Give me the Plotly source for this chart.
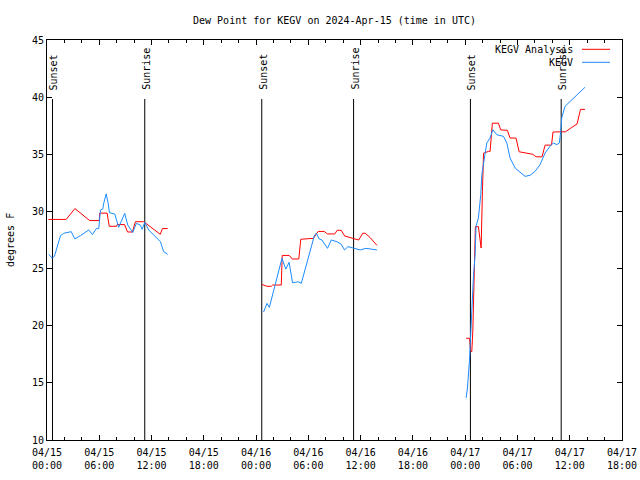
import plotly.graph_objects as go
import pandas as pd

BASE = pd.Timestamp("2024-04-15 00:00")

# ---- data (hours after 2024-04-15 00:00 UTC, dew point in F) ----
analysis_hours = [
    [0.17, 2.2, 3.2, 4.9, 6.0, 6.05, 6.9, 7.15, 8.0, 8.05, 8.9, 9.25, 9.8, 10.15, 11.1, 13.0, 13.25, 13.85],
    [24.63, 25.25, 25.75, 25.9, 26.89, 27.0, 27.8, 28.15, 28.9, 29.13, 30.22, 30.56, 31.13, 31.82, 32.19,
     33.03, 33.31, 33.77, 34.17, 34.8, 35.78, 36.24, 36.53, 37.1, 37.87],
    [48.11, 48.5, 48.62, 48.76, 48.88, 48.95, 49.06, 49.17, 49.52, 49.63, 49.79, 49.83, 49.98, 50.11, 50.67,
     50.86, 51.12, 51.81, 52.09, 52.84, 53.15, 53.84, 54.19, 54.99, 55.76, 56.14, 56.82, 57.17, 57.91, 58.08,
     58.97, 59.52, 60.23, 60.84, 61.24, 61.75],
]
analysis_values = [
    [29.3, 29.3, 30.25, 29.2, 29.2, 29.85, 29.85, 28.7, 28.7, 28.85, 28.85, 28.2, 28.2, 29.1, 29.1, 28.0, 28.5, 28.5],
    [23.62, 23.45, 23.45, 23.56, 23.56, 26.15, 26.15, 25.84, 25.84, 27.56, 27.63, 27.63, 28.25, 28.25, 28.03,
     28.03, 28.35, 28.35, 27.85, 27.7, 27.5, 28.09, 28.09, 27.7, 27.03],
    [18.9, 18.9, 17.8, 17.73, 19.63, 22.25, 24.0, 28.67, 28.67, 27.8, 27.2, 26.8, 31.76, 35.1, 35.25,
     35.25, 37.72, 37.72, 37.13, 37.1, 36.42, 36.42, 35.22, 35.08, 35.0, 34.78, 34.78, 35.8, 35.8, 36.95,
     36.98, 36.97, 37.35, 37.65, 38.93, 38.93],
]
obs_hours = [
    [0.21, 0.6, 0.86, 1.55, 1.93, 2.78, 3.19, 3.84, 4.79, 5.22, 5.66, 5.94, 6.14, 6.4, 6.51, 6.79, 7.02, 7.17,
     7.78, 8.23, 8.92, 9.27, 9.84, 10.26, 10.72, 10.92, 11.22, 11.67, 13.02, 13.39, 13.85],
    [24.86, 25.25, 25.52, 26.97, 27.41, 27.79, 28.19, 28.81, 29.19, 30.71, 30.91, 31.25, 31.56, 32.2, 32.63,
     33.28, 33.77, 34.15, 34.54, 35.0, 35.38, 35.95, 36.61, 37.1, 37.87],
    [48.11, 48.26, 48.49, 48.57, 48.68, 48.76, 48.94, 49.14, 49.25, 49.52, 49.79, 49.91, 50.17, 50.48, 50.86,
     51.17, 51.63, 52.39, 52.78, 53.15, 53.73, 54.3, 54.87, 55.45, 56.02, 56.59, 57.17, 57.74, 58.12, 58.51,
     58.81, 58.97, 59.08, 59.46, 60.03, 60.61, 61.18, 61.75],
]
obs_values = [
    [26.25, 25.9, 26.1, 27.88, 28.09, 28.23, 27.6, 27.88, 28.38, 27.97, 28.5, 28.5, 30.13, 30.21, 30.71, 31.53,
     30.71, 29.89, 29.77, 28.61, 29.83, 28.81, 28.15, 28.96, 28.8, 28.43, 29.05, 28.38, 27.35, 26.48, 26.25],
    [21.2, 21.95, 21.6, 25.9, 24.95, 25.55, 23.75, 23.85, 23.71, 27.94, 28.09, 27.59, 27.5, 26.77, 27.5,
     27.35, 27.13, 26.63, 26.92, 26.83, 26.72, 26.63, 26.77, 26.72, 26.63],
    [13.68, 14.55, 16.89, 18.34, 19.51, 21.26, 24.18, 26.22, 28.7, 29.43, 31.47, 33.22, 34.68, 35.99, 36.43,
     37.15, 36.71, 36.57, 35.99, 34.68, 33.8, 33.45, 33.07, 33.16, 33.51, 34.09, 35.11, 35.7, 35.99, 35.84,
     35.99, 37.01, 38.18, 39.2, 39.64, 40.07, 40.45, 40.86],
]
sunset_hours = [0.63, 24.65, 48.6]
sunrise_hours = [11.22, 35.19, 59.02]
sun_line_top = 39.84
sun_label_y = 40.45

tick_hours = list(range(0, 67, 6))
tick_labels = ["04/15<br>00:00", "04/15<br>06:00", "04/15<br>12:00", "04/15<br>18:00",
               "04/16<br>00:00", "04/16<br>06:00", "04/16<br>12:00", "04/16<br>18:00",
               "04/17<br>00:00", "04/17<br>06:00", "04/17<br>12:00", "04/17<br>18:00"]
minor_hours = list(range(0, 67, 2))
series_names = ["KEGV Analysis", "KEGV"]
series_colors = ["#ff0000", "#1a8cff"]


def ts(h):
    return (BASE + pd.Timedelta(hours=h)).strftime("%Y-%m-%d %H:%M:%S")


def join(segs_h, segs_v):
    xs, ys = [], []
    for hs, vs in zip(segs_h, segs_v):
        xs += [ts(h) for h in hs] + [None]
        ys += list(vs) + [None]
    return xs, ys


FONT = dict(family="DejaVu Sans Mono", size=10, color="black")
fig = go.Figure()

# sunrise / sunset lines
sx, sy = [], []
for h in sunset_hours + sunrise_hours:
    sx += [ts(h), ts(h), None]
    sy += [10, sun_line_top, None]
fig.add_trace(go.Scatter(x=sx, y=sy, mode="lines", line=dict(color="black", width=1),
                         showlegend=False, hoverinfo="skip"))

for name, color, hs, vs in zip(series_names, series_colors,
                               [analysis_hours, obs_hours], [analysis_values, obs_values]):
    x, y = join(hs, vs)
    fig.add_trace(go.Scatter(x=x, y=y, mode="lines", name=name,
                             line=dict(color=color, width=1), showlegend=False,
                             connectgaps=False))

annotations = []
for h in sunset_hours:
    annotations.append(dict(x=ts(h), y=sun_label_y, xref="x", yref="y", text="Sunset",
                            textangle=-90, showarrow=False, xanchor="center", yanchor="bottom",
                            xshift=1, font=FONT))
for h in sunrise_hours:
    annotations.append(dict(x=ts(h), y=sun_label_y, xref="x", yref="y", text="Sunrise",
                            textangle=-90, showarrow=False, xanchor="center", yanchor="bottom",
                            xshift=1, font=FONT))

# y axis title
annotations.append(dict(x=0, y=0.5, xref="paper", yref="paper", text="degrees F", textangle=-90,
                        showarrow=False, xanchor="center", yanchor="middle", xshift=-37, font=FONT))

# gnuplot-style key (text left, sample right)
L, R, T, B = 47, 622, 40, 440
W, H = R - L, B - T
shapes = []
for i, (name, color) in enumerate(zip(series_names, series_colors)):
    ypix = 49.3 + 13 * i
    yp = (B - ypix) / H
    annotations.append(dict(x=(575 - L) / W, y=yp, xref="paper", yref="paper", text=name,
                            showarrow=False, xanchor="right", yanchor="middle", font=FONT))
    shapes.append(dict(type="line", xref="paper", yref="paper",
                       x0=(582 - L) / W, x1=(610 - L) / W, y0=yp, y1=yp,
                       line=dict(color=color, width=1)))

fig.update_layout(
    width=640, height=480,
    margin=dict(l=L, r=640 - R, t=T, b=480 - B, autoexpand=False),
    paper_bgcolor="white", plot_bgcolor="white",
    font=FONT,
    title=dict(text="Dew Point for KEGV on 2024-Apr-15 (time in UTC)", x=0.5, xref="paper",
               y=1 - 20 / 480, yref="container", xanchor="center", yanchor="middle", font=FONT,
               automargin=False),
    annotations=annotations,
    shapes=shapes,
    showlegend=False,
)
fig.update_xaxes(type="date", range=[ts(0), ts(66)], tickmode="array", automargin=False,
                 tickvals=[ts(h) for h in tick_hours], ticktext=tick_labels, ticklabelstandoff=3,
                 ticks="inside", ticklen=5, tickcolor="black", showline=True, linecolor="black",
                 linewidth=1, mirror="ticks", showgrid=False, zeroline=False, tickfont=FONT,
                 minor=dict(tickmode="array", tickvals=[ts(h) for h in minor_hours],
                            ticks="inside", ticklen=3, tickcolor="black", showgrid=False))
fig.update_yaxes(range=[10, 45], tickmode="array", tickvals=list(range(10, 46, 5)), automargin=False,
                 ticks="inside", ticklen=5, tickcolor="black", showline=True, linecolor="black",
                 linewidth=1, mirror="ticks", showgrid=False, zeroline=False, tickfont=FONT)

fig.write_html("out.html", config={"displayModeBar": False},
               post_script="document.body.style.margin='0';document.body.style.padding='0';")
